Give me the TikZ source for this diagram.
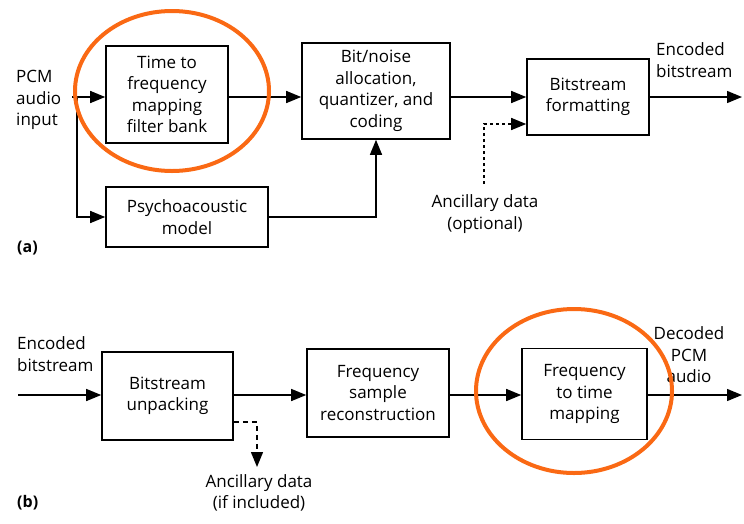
\documentclass[tikz,border=0pt]{standalone}
\usepackage{fontspec}
\setmainfont{Open Sans}
\usetikzlibrary{arrows.meta,calc}
\definecolor{hl}{RGB}{250,105,20}
\tikzset{
  blk/.style={draw, line width=1.6pt, inner sep=0pt, align=center, font=\fontsize{17}{21.5}\selectfont},
  lbl/.style={inner sep=0pt, font=\fontsize{17}{21.5}\selectfont},
  arr/.style={line width=1.4pt, -{Triangle[length=15pt,width=12pt]}},
  ln/.style={line width=1.4pt},
  dotarr/.style={line width=1.4pt, dash pattern=on 3pt off 3pt, -{Triangle[length=15pt,width=12pt]}},
  dasharr/.style={line width=1.4pt, dash pattern=on 5pt off 4pt, -{Triangle[length=15pt,width=12pt]}},
  ring/.style={draw=hl, line width=4pt}
}
\begin{document}
\begin{tikzpicture}[x=1pt,y=-1pt]
\useasboundingbox (0,0) rectangle (744,523);
% ---- (a) ----
\node[blk, minimum width=122pt, minimum height=97pt] (b1) at (167,94.5) {Time to\\frequency\\mapping\\filter bank};
\node[blk, minimum width=148pt, minimum height=96pt] (b2) at (376,91) {Bit/noise\\allocation,\\quantizer, and\\coding};
\node[blk, minimum width=122pt, minimum height=76pt] (b3) at (588,97) {Bitstream\\formatting};
\node[blk, minimum width=162pt, minimum height=60pt] (b4) at (187,217) {Psychoacoustic\\model};
\node[lbl, anchor=west, align=left] (pcm) at (16,100) {PCM\\audio\\input};
\node[lbl, anchor=west, align=left] (enc) at (656,60) {Encoded\\bitstream};
\node[lbl, align=center] (anc1) at (485,214) {Ancillary data\\(optional)};
\node[lbl, anchor=west, font=\fontsize{16}{18}\selectfont\bfseries] (la) at (17,248) {(a)};
\coordinate (in) at (72,97);
\coordinate (split) at (77,97);
\coordinate (out1) at (742,97);
\coordinate (ancs) at (484,184);
\draw[arr] (in) -- (b1.west |- in);
\draw[ln] (split) |- ($(b4.west)+(-10,0)$);
\draw[arr] ($(b4.west)+(-10,0)$) -- (b4.west);
\draw[arr] (b1.east |- in) -- (b2.west |- in);
\draw[arr] (b2.east |- in) -- (b3.west |- in);
\draw[arr] (b3.east |- in) -- (out1);
\draw[arr] (b4.east) -| (b2.south);
\draw[dotarr] (ancs) |- (b3.west |- 0,124);
\draw[ring] (172,91) ellipse [x radius=97, y radius=80];
% ---- (b) ----
\node[blk, minimum width=131pt, minimum height=88pt] (c1) at (167.5,396) {Bitstream\\unpacking};
\node[blk, minimum width=142pt, minimum height=88pt] (c2) at (378,393) {Frequency\\sample\\reconstruction};
\node[blk, minimum width=125pt, minimum height=91pt] (c3) at (584.5,394) {Frequency\\to time\\mapping};
\node[lbl, anchor=west, align=left] (enc2) at (17,354) {Encoded\\bitstream};
\node[lbl, align=center] (dec) at (689,355) {Decoded\\PCM\\audio};
\node[lbl, align=center] (anc2) at (259,493) {Ancillary data\\(if included)};
\node[lbl, anchor=west, font=\fontsize{16}{18}\selectfont\bfseries] (lb) at (17,503) {(b)};
\coordinate (in2) at (18,395);
\coordinate (out2) at (742,395);
\coordinate (ancd) at (257,422);
\draw[arr] (in2) -- (c1.west |- in2);
\draw[arr] (c1.east |- in2) -- (c2.west |- in2);
\draw[arr] (c2.east |- in2) -- (c3.west |- in2);
\draw[arr] (c3.east |- in2) -- (out2);
\draw[dasharr] (c1.east |- ancd) -| ($(ancd)+(0,45)$);
\draw[ring] (574,391) ellipse [x radius=98, y radius=82];
\end{tikzpicture}
\end{document}
